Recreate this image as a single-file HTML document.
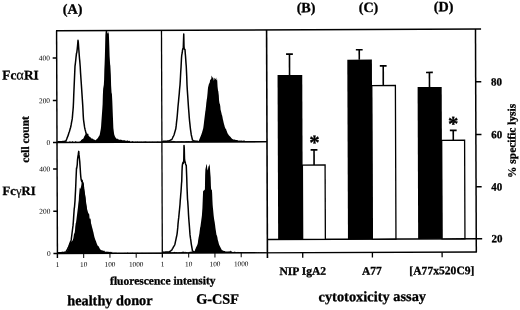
<!DOCTYPE html>
<html><head><meta charset="utf-8"><title>Figure</title>
<style>
html,body{margin:0;padding:0;background:#fff;}
body{width:520px;height:310px;overflow:hidden;}
svg{display:block;font-family:"Liberation Serif",serif;fill:#000;}
</style></head><body>
<svg width="520" height="310" viewBox="0 0 520 310">
<defs><filter id="soft" x="0" y="0" width="520" height="310" filterUnits="userSpaceOnUse"><feGaussianBlur stdDeviation="0.5"/></filter></defs>
<rect width="520" height="310" fill="#fff"/>
<g filter="url(#soft)">
<g>
<path d="M57.50,142.70 L57.50,141.82 L58.00,141.86 L58.50,141.77 L59.00,141.98 L59.50,142.12 L60.00,141.66 L60.50,141.44 L61.00,140.95 L61.50,142.11 L62.00,141.84 L62.50,141.23 L63.00,142.06 L63.50,142.12 L64.00,141.78 L64.50,141.59 L65.00,141.97 L65.50,141.53 L66.00,141.53 L66.50,141.60 L67.00,141.94 L67.50,141.99 L68.00,141.98 L68.50,141.90 L69.00,142.06 L69.50,141.52 L70.00,141.37 L70.50,141.68 L71.00,141.98 L71.50,142.05 L72.00,141.62 L72.50,141.10 L73.00,141.63 L73.50,141.98 L74.00,141.64 L74.50,141.96 L75.00,142.01 L75.50,140.99 L76.00,141.32 L76.50,141.95 L77.00,141.83 L77.50,141.89 L78.00,142.00 L78.50,141.90 L79.00,141.74 L79.50,141.88 L79.60,141.58 L79.85,141.41 L80.10,141.24 L80.35,141.16 L80.60,140.98 L80.85,140.80 L81.10,140.12 L81.35,139.96 L81.60,139.80 L81.85,139.49 L82.10,139.31 L82.35,139.12 L82.60,139.21 L82.85,139.05 L83.10,138.76 L83.35,138.46 L83.60,137.97 L83.85,137.49 L84.10,136.86 L84.35,136.35 L84.60,135.84 L84.85,135.52 L85.10,135.08 L85.35,134.72 L85.60,134.36 L85.85,133.99 L86.10,133.62 L86.35,133.25 L86.60,133.14 L86.85,133.43 L87.10,133.39 L87.35,133.69 L87.60,134.00 L87.85,133.32 L88.10,133.67 L88.35,134.08 L88.60,135.68 L88.85,136.05 L89.10,136.36 L89.35,136.48 L89.60,136.68 L89.85,136.88 L90.10,136.96 L90.35,137.17 L90.60,137.38 L90.85,137.76 L91.10,137.96 L91.35,138.16 L91.60,138.46 L91.85,138.67 L92.10,138.84 L92.35,138.46 L92.60,138.57 L92.85,138.68 L93.10,139.13 L93.35,139.23 L93.60,139.34 L93.85,139.59 L94.10,139.70 L94.35,139.80 L94.60,139.72 L94.85,139.83 L95.10,139.93 L95.35,140.20 L95.60,140.19 L95.85,140.00 L96.10,139.74 L96.35,139.55 L96.60,139.36 L96.85,139.08 L97.10,138.89 L97.35,138.59 L97.60,138.31 L97.85,137.91 L98.10,137.51 L98.35,137.13 L98.60,136.73 L98.85,136.34 L99.10,135.91 L99.35,135.52 L99.60,135.13 L99.85,134.11 L100.10,132.71 L100.35,131.31 L100.60,129.94 L100.85,128.55 L101.10,126.32 L101.35,122.33 L101.60,118.68 L101.85,115.20 L102.10,111.81 L102.35,108.34 L102.60,104.33 L102.85,95.14 L103.10,89.88 L103.35,84.63 L103.60,88.74 L103.85,84.28 L104.10,79.82 L104.35,69.61 L104.60,63.92 L104.85,57.04 L105.10,47.22 L105.35,35.19 L105.60,31.90 L105.85,30.60 L106.10,30.60 L106.35,30.60 L106.60,30.60 L106.85,30.60 L107.10,30.60 L107.35,32.66 L107.60,33.19 L107.85,33.73 L108.10,31.58 L108.35,32.55 L108.60,33.52 L108.85,33.47 L109.10,40.38 L109.35,47.30 L109.60,55.88 L109.85,60.11 L110.10,64.34 L110.35,65.69 L110.60,70.46 L110.85,75.23 L111.10,85.25 L111.35,89.59 L111.60,93.93 L111.85,92.45 L112.10,97.37 L112.35,102.30 L112.60,108.99 L112.85,115.62 L113.10,121.57 L113.35,127.89 L113.60,129.98 L113.85,132.06 L114.10,133.80 L114.35,134.96 L114.60,135.45 L114.85,136.24 L115.10,136.73 L115.35,137.21 L115.60,137.61 L115.85,138.08 L116.10,138.40 L116.35,138.60 L116.60,138.70 L116.85,138.80 L117.10,138.52 L117.35,138.63 L117.60,138.73 L117.85,139.17 L118.10,139.27 L118.35,139.36 L118.60,139.46 L118.85,139.56 L119.10,139.64 L119.35,139.75 L119.60,139.80 L119.85,139.85 L120.10,139.75 L120.35,139.80 L120.60,139.86 L120.85,139.59 L121.10,139.64 L121.35,139.69 L121.60,140.08 L121.85,140.12 L122.10,140.16 L122.35,140.15 L122.60,140.17 L122.85,140.20 L123.10,140.33 L123.35,140.36 L123.60,140.38 L123.85,140.05 L124.10,140.07 L124.35,140.09 L124.60,140.46 L124.85,140.48 L125.10,140.51 L125.35,140.60 L125.60,140.63 L125.85,140.65 L126.10,140.70 L126.35,140.73 L126.60,140.75 L126.85,140.67 L127.10,140.70 L127.35,140.72 L127.60,140.35 L127.85,140.37 L128.10,140.40 L128.35,140.92 L128.60,140.94 L128.85,140.97 L129.10,140.84 L129.35,140.86 L129.60,140.89 L129.85,140.71 L130.35,142.03 L130.85,141.93 L131.35,141.85 L131.85,141.76 L132.35,141.11 L132.85,141.56 L133.35,141.75 L133.85,141.98 L134.35,142.03 L134.85,141.99 L135.35,141.86 L135.85,141.70 L136.35,141.89 L136.85,141.81 L137.35,141.78 L137.85,141.57 L138.35,142.11 L138.85,141.99 L139.35,141.82 L139.85,141.97 L140.35,142.10 L140.85,141.85 L141.35,141.73 L141.85,141.91 L142.35,142.01 L142.85,142.12 L143.35,141.78 L143.85,142.09 L144.35,141.76 L144.85,141.64 L145.35,141.36 L145.85,141.92 L146.35,141.73 L146.85,142.05 L147.35,141.99 L147.85,142.00 L148.35,142.02 L148.85,142.15 L149.35,142.10 L149.85,141.73 L150.35,142.03 L150.85,142.07 L151.35,141.94 L151.85,142.10 L152.35,141.83 L152.85,142.07 L153.35,141.93 L153.85,141.99 L154.35,142.07 L154.85,141.94 L155.35,142.13 L155.85,142.03 L156.35,142.11 L156.85,142.07 L157.35,141.53 L157.85,142.03 L158.35,141.93 L158.85,141.87 L159.35,142.10 L159.85,142.05 L160.35,142.10 L160.85,142.04 L161.35,142.10 L161.50,142.70Z" fill="#000"/>
<path d="M58.00,141.79 L58.25,141.78 L58.50,141.77 L58.75,141.77 L59.00,141.76 L59.25,141.75 L59.50,141.74 L59.75,141.73 L60.00,141.72 L60.25,141.72 L60.50,141.71 L60.75,141.70 L61.00,141.67 L61.25,141.66 L61.50,141.65 L61.75,141.67 L62.00,141.66 L62.25,141.65 L62.50,141.61 L62.75,141.60 L63.00,141.59 L63.25,141.56 L63.50,141.52 L63.75,141.47 L64.00,141.42 L64.25,141.37 L64.50,141.33 L64.75,141.29 L65.00,141.25 L65.25,141.20 L65.50,141.13 L65.75,141.09 L66.00,140.58 L66.25,140.06 L66.50,139.46 L66.75,138.87 L67.00,138.19 L67.25,137.58 L67.50,136.97 L67.75,136.37 L68.00,135.76 L68.25,135.16 L68.50,134.23 L68.75,133.39 L69.00,132.56 L69.25,132.00 L69.50,131.18 L69.75,130.37 L70.00,129.41 L70.25,128.58 L70.50,127.76 L70.75,126.79 L71.00,125.51 L71.25,124.23 L71.50,122.73 L71.75,121.44 L72.00,120.14 L72.25,118.69 L72.50,115.90 L72.75,112.72 L73.00,110.21 L73.25,107.10 L73.50,101.95 L73.75,95.04 L74.00,89.22 L74.25,83.41 L74.50,77.78 L74.75,71.98 L75.00,66.19 L75.25,64.39 L75.50,62.24 L75.75,60.09 L76.00,57.53 L76.25,55.37 L76.50,53.20 L76.75,52.84 L77.00,50.86 L77.25,48.87 L77.50,46.24 L77.75,43.50 L78.00,40.25 L78.25,41.89 L78.50,45.10 L78.75,48.76 L79.00,51.99 L79.25,55.45 L79.50,58.55 L79.75,60.88 L80.00,64.01 L80.25,67.28 L80.50,72.09 L80.75,75.81 L81.00,79.53 L81.25,83.03 L81.50,86.77 L81.75,90.50 L82.00,94.40 L82.25,98.12 L82.50,101.84 L82.75,105.63 L83.00,110.53 L83.25,115.72 L83.50,119.52 L83.75,121.34 L84.00,123.16 L84.25,124.84 L84.50,126.67 L84.75,128.00 L85.00,129.18 L85.25,130.16 L85.50,131.15 L85.75,131.97 L86.00,132.97 L86.25,133.98 L86.50,134.85 L86.75,135.40 L87.00,135.95 L87.25,136.56 L87.50,137.10 L87.75,137.65 L88.00,138.23 L88.25,138.77 L88.50,139.31 L88.75,139.51 L89.00,139.69 L89.25,139.87 L89.50,140.04 L89.75,140.22 L90.00,140.40 L90.25,140.52 L90.50,140.71 L90.75,140.89 L91.00,141.10 L91.25,141.15 L91.50,141.20 L91.75,141.26 L92.00,141.31 L92.25,141.36 L92.50,141.40 L92.75,141.45 L93.00,141.50 L93.25,141.53 L93.50,141.58 L93.75,141.63 L94.00,141.70" fill="none" stroke="#000" stroke-width="1.5" stroke-linejoin="round" stroke-linecap="round"/>
<path d="M162.50,142.20 L162.50,141.32 L163.00,141.52 L163.50,141.22 L164.00,141.08 L164.50,141.36 L165.00,141.58 L165.50,140.75 L166.00,141.13 L166.50,141.54 L167.00,141.03 L167.50,141.63 L168.00,141.29 L168.50,141.64 L169.00,141.24 L169.50,141.46 L170.00,141.23 L170.50,141.49 L171.00,141.16 L171.50,141.41 L172.00,140.58 L172.50,141.38 L173.00,141.17 L173.50,140.74 L174.00,141.40 L174.50,140.96 L175.00,141.26 L175.50,141.57 L176.00,141.63 L176.50,141.57 L177.00,141.56 L177.50,141.48 L178.00,141.22 L178.50,141.41 L179.00,141.43 L179.50,141.57 L180.00,141.23 L180.50,141.52 L181.00,141.32 L181.50,141.36 L182.00,141.37 L182.50,141.59 L183.00,140.94 L183.50,141.56 L184.00,141.64 L184.50,141.50 L185.00,141.61 L185.50,141.54 L186.00,140.74 L186.50,141.46 L187.00,140.89 L187.50,141.45 L188.00,141.01 L188.50,141.25 L189.00,141.03 L189.50,141.45 L190.00,141.37 L190.50,141.56 L191.00,141.47 L191.50,140.87 L192.00,141.49 L192.50,141.10 L193.00,141.33 L193.50,141.42 L194.00,141.35 L194.50,141.19 L195.00,141.34 L195.50,140.77 L196.00,141.18 L196.50,141.47 L197.00,141.11 L197.50,141.12 L198.00,141.14 L198.50,141.57 L198.80,140.78 L199.05,140.20 L199.30,139.62 L199.55,138.88 L199.80,138.30 L200.05,137.71 L200.30,137.11 L200.55,136.54 L200.80,135.97 L201.05,135.29 L201.30,134.70 L201.55,133.84 L201.80,133.26 L202.05,132.43 L202.30,131.59 L202.55,130.66 L202.80,129.85 L203.05,129.03 L203.30,127.82 L203.55,125.92 L203.80,124.02 L204.05,121.65 L204.30,119.70 L204.55,117.72 L204.80,115.81 L205.05,113.70 L205.30,111.58 L205.55,110.17 L205.80,108.12 L206.05,106.11 L206.30,103.06 L206.55,101.14 L206.80,99.22 L207.05,97.95 L207.30,95.46 L207.55,92.96 L207.80,89.84 L208.05,87.60 L208.30,86.49 L208.55,85.51 L208.80,84.40 L209.05,83.29 L209.30,83.70 L209.55,82.75 L209.80,82.31 L210.05,80.27 L210.30,79.81 L210.55,79.35 L210.80,79.83 L211.05,79.15 L211.30,78.47 L211.55,75.44 L211.80,75.93 L212.05,76.42 L212.30,78.18 L212.55,77.45 L212.80,76.73 L213.05,77.38 L213.30,78.17 L213.55,78.95 L213.80,80.72 L214.05,80.05 L214.30,79.38 L214.55,77.65 L214.80,77.89 L215.05,78.36 L215.30,78.67 L215.55,79.01 L215.80,78.82 L216.05,80.03 L216.30,79.84 L216.55,80.55 L216.80,77.35 L217.05,78.96 L217.30,81.42 L217.55,86.44 L217.80,88.70 L218.05,90.80 L218.30,91.25 L218.55,93.41 L218.80,95.56 L219.05,100.15 L219.30,102.00 L219.55,103.86 L219.80,103.55 L220.05,105.04 L220.30,106.20 L220.55,109.41 L220.80,110.51 L221.05,111.60 L221.30,112.49 L221.55,113.60 L221.80,114.71 L222.05,115.23 L222.30,116.37 L222.55,117.50 L222.80,118.96 L223.05,119.96 L223.30,120.97 L223.55,122.23 L223.80,123.18 L224.05,124.13 L224.30,125.04 L224.55,126.02 L224.80,127.00 L225.05,127.52 L225.30,128.33 L225.55,128.84 L225.80,128.67 L226.05,129.19 L226.30,129.71 L226.55,130.83 L226.80,131.34 L227.05,131.85 L227.30,132.77 L227.55,133.26 L227.80,133.76 L228.05,133.94 L228.30,134.45 L228.55,134.81 L228.80,135.21 L229.05,135.46 L229.30,135.71 L229.55,135.97 L229.80,136.22 L230.05,136.48 L230.30,136.67 L230.55,136.92 L230.80,137.17 L231.05,137.71 L231.30,137.96 L231.55,138.22 L231.80,138.45 L232.05,138.70 L232.30,138.96 L232.55,138.96 L232.80,139.22 L233.05,139.28 L233.30,139.53 L233.55,139.58 L233.80,139.63 L234.05,139.35 L234.30,139.41 L234.55,139.46 L234.80,139.87 L235.05,139.92 L235.30,139.98 L235.55,139.80 L235.80,139.86 L236.05,139.91 L236.30,139.98 L236.55,140.03 L236.80,140.09 L237.05,139.90 L237.30,139.95 L237.55,140.00 L237.80,140.55 L238.05,140.59 L238.30,140.60 L238.55,140.62 L238.80,140.63 L239.05,140.65 L239.30,140.46 L239.55,140.47 L239.80,140.49 L240.05,140.66 L240.30,140.67 L240.55,140.69 L240.80,140.35 L241.05,140.37 L241.30,140.38 L241.55,140.62 L241.80,140.64 L242.05,140.65 L242.30,140.68 L242.55,140.70 L242.80,140.71 L243.05,140.79 L243.30,140.81 L243.55,140.82 L243.80,140.15 L244.05,140.16 L244.30,140.18 L244.55,140.86 L244.80,140.88 L245.30,141.52 L245.80,141.28 L246.30,141.36 L246.80,141.18 L247.30,141.30 L247.80,141.21 L248.30,141.54 L248.80,141.31 L249.30,141.64 L249.80,141.47 L250.30,141.62 L250.80,141.42 L251.30,141.16 L251.80,141.12 L252.30,141.61 L252.80,141.58 L253.30,141.49 L253.80,141.33 L254.30,141.18 L254.80,141.47 L255.30,141.42 L255.80,141.55 L256.30,141.60 L256.80,141.60 L257.30,141.54 L257.80,141.41 L258.30,141.26 L258.80,141.47 L259.30,141.62 L259.80,141.39 L260.30,141.56 L260.80,141.29 L261.30,141.64 L261.80,141.32 L262.30,141.62 L262.80,141.54 L263.30,141.18 L263.80,141.42 L264.30,141.32 L264.80,141.64 L265.30,141.23 L265.80,141.60 L266.30,141.60 L266.50,142.20Z" fill="#000"/>
<path d="M163.00,141.39 L163.25,141.37 L163.50,141.35 L163.75,141.34 L164.00,141.33 L164.25,141.31 L164.50,141.29 L164.75,141.27 L165.00,141.26 L165.25,141.25 L165.50,141.23 L165.75,141.22 L166.00,141.19 L166.25,141.17 L166.50,141.15 L166.75,141.13 L167.00,141.12 L167.25,141.10 L167.50,141.08 L167.75,141.06 L168.00,141.04 L168.25,141.03 L168.50,141.01 L168.75,140.94 L169.00,140.81 L169.25,140.70 L169.50,140.58 L169.75,140.47 L170.00,140.35 L170.25,140.24 L170.50,140.14 L170.75,140.02 L171.00,139.91 L171.25,139.74 L171.50,139.62 L171.75,139.50 L172.00,139.06 L172.25,138.55 L172.50,138.03 L172.75,137.47 L173.00,136.95 L173.25,136.43 L173.50,136.02 L173.75,135.51 L174.00,135.00 L174.25,134.15 L174.50,133.26 L174.75,132.38 L175.00,131.51 L175.25,130.63 L175.50,129.75 L175.75,129.02 L176.00,127.21 L176.25,125.16 L176.50,122.54 L176.75,120.43 L177.00,118.33 L177.25,115.80 L177.50,112.69 L177.75,109.58 L178.00,106.51 L178.25,104.04 L178.50,101.58 L178.75,98.61 L179.00,96.11 L179.25,93.62 L179.50,90.09 L179.75,87.55 L180.00,85.00 L180.25,81.08 L180.50,76.31 L180.75,71.55 L181.00,67.92 L181.25,62.98 L181.50,58.04 L181.75,55.04 L182.00,53.88 L182.25,52.71 L182.50,50.09 L182.75,49.11 L183.00,48.27 L183.25,48.31 L183.50,41.01 L183.75,34.04 L184.00,46.36 L184.25,49.00 L184.50,49.42 L184.75,49.24 L185.00,49.66 L185.25,53.31 L185.50,55.97 L185.75,59.67 L186.00,63.37 L186.25,66.31 L186.50,71.71 L186.75,77.11 L187.00,84.75 L187.25,89.11 L187.50,92.90 L187.75,96.34 L188.00,100.16 L188.25,103.98 L188.50,107.59 L188.75,110.71 L189.00,113.83 L189.25,117.44 L189.50,120.24 L189.75,122.67 L190.00,124.79 L190.25,127.26 L190.50,129.45 L190.75,131.22 L191.00,132.98 L191.25,134.73 L191.50,135.75 L191.75,136.81 L192.00,137.86 L192.25,138.96 L192.50,140.00 L192.75,140.17 L193.00,140.36 L193.25,140.53 L193.50,140.69 L193.75,140.83 L194.00,140.99 L194.25,141.02 L194.50,141.05 L194.75,141.08 L195.00,141.10 L195.25,141.14 L195.50,141.16 L195.75,141.19 L196.00,141.20 L196.25,141.23 L196.50,141.25 L196.75,141.28 L197.00,141.30 L197.25,141.33 L197.50,141.35 L197.75,141.38 L198.00,141.40" fill="none" stroke="#000" stroke-width="1.5" stroke-linejoin="round" stroke-linecap="round"/>
<path d="M57.50,253.70 L57.50,252.31 L58.00,252.46 L58.50,252.33 L59.00,252.96 L59.50,252.63 L60.00,252.52 L60.50,252.76 L61.00,252.36 L61.25,252.35 L61.50,252.35 L61.75,252.40 L62.00,252.39 L62.25,252.39 L62.50,251.67 L62.75,251.67 L63.00,251.66 L63.25,252.39 L63.50,252.38 L63.75,252.38 L64.00,252.41 L64.25,252.40 L64.50,252.40 L64.75,251.90 L65.00,251.90 L65.25,251.89 L65.50,252.17 L65.75,252.16 L66.00,252.16 L66.25,252.16 L66.50,251.74 L66.75,251.31 L67.00,250.95 L67.25,250.52 L67.50,250.08 L67.75,249.67 L68.00,249.25 L68.25,248.26 L68.50,247.19 L68.75,246.23 L69.00,245.28 L69.25,244.30 L69.50,243.31 L69.75,243.08 L70.00,242.85 L70.25,242.62 L70.50,242.38 L70.75,241.70 L71.00,241.46 L71.25,241.22 L71.50,241.60 L71.75,241.38 L72.00,241.16 L72.25,240.80 L72.50,240.57 L72.75,240.34 L73.00,239.11 L73.25,238.65 L73.50,237.35 L73.75,235.44 L74.00,234.11 L74.25,232.77 L74.50,233.90 L74.75,232.12 L75.00,230.33 L75.25,226.87 L75.50,224.94 L75.75,222.99 L76.00,222.70 L76.25,220.84 L76.50,218.98 L76.75,216.94 L77.00,214.98 L77.25,213.01 L77.50,211.06 L77.75,209.04 L78.00,207.02 L78.25,204.36 L78.50,202.30 L78.75,200.25 L79.00,195.26 L79.25,193.10 L79.50,189.98 L79.75,187.96 L80.00,187.72 L80.25,187.49 L80.50,188.92 L80.75,188.69 L81.00,186.85 L81.25,185.51 L81.50,183.96 L81.75,182.57 L82.00,180.35 L82.25,180.13 L82.50,180.70 L82.75,181.51 L83.00,182.08 L83.25,182.83 L83.50,181.97 L83.75,183.53 L84.00,185.10 L84.25,189.93 L84.50,191.67 L84.75,193.46 L85.00,194.14 L85.25,195.98 L85.50,197.81 L85.75,199.79 L86.00,201.58 L86.25,203.36 L86.50,205.07 L86.75,206.86 L87.00,208.64 L87.25,209.71 L87.50,210.55 L87.75,211.39 L88.00,212.31 L88.25,213.15 L88.50,213.98 L88.75,212.96 L89.00,213.83 L89.25,214.70 L89.50,217.73 L89.75,218.60 L90.00,219.48 L90.25,218.00 L90.50,218.92 L90.75,219.85 L91.00,223.13 L91.25,224.00 L91.50,224.86 L91.75,225.96 L92.00,227.02 L92.25,228.07 L92.50,228.75 L92.75,229.83 L93.00,230.90 L93.25,231.71 L93.50,232.85 L93.75,234.00 L94.00,235.22 L94.25,236.36 L94.50,237.51 L94.75,237.83 L95.00,239.01 L95.25,239.56 L95.50,240.23 L95.75,240.78 L96.00,241.33 L96.25,242.32 L96.50,242.86 L96.75,243.40 L97.00,244.25 L97.25,244.77 L97.50,245.29 L97.75,245.68 L98.00,246.05 L98.25,246.43 L98.50,246.07 L98.75,246.47 L99.00,246.87 L99.25,247.85 L99.50,248.23 L99.75,248.61 L100.00,248.89 L100.25,249.25 L100.50,249.61 L100.75,249.93 L101.00,250.02 L101.25,250.12 L101.50,250.23 L101.75,250.33 L102.00,250.42 L102.25,250.18 L102.50,250.28 L102.75,250.39 L103.00,250.90 L103.25,251.00 L103.50,251.10 L103.75,250.37 L104.00,250.48 L104.25,250.58 L104.50,251.27 L104.75,251.37 L105.00,251.47 L105.25,251.68 L105.50,251.70 L105.75,251.72 L106.00,251.68 L106.25,251.70 L106.50,251.72 L106.75,251.51 L107.00,251.53 L107.25,251.55 L107.50,251.85 L107.75,251.87 L108.00,251.90 L108.25,251.77 L108.50,251.79 L108.75,251.81 L109.00,251.85 L109.25,251.87 L109.50,251.89 L109.75,252.10 L110.00,252.12 L110.25,252.15 L110.50,251.77 L110.75,251.79 L111.00,251.81 L111.25,252.22 L111.50,252.24 L111.75,252.26 L112.00,251.54 L112.50,253.06 L113.00,252.89 L113.50,253.05 L114.00,252.28 L114.50,253.01 L115.00,252.85 L115.50,252.85 L116.00,252.76 L116.50,252.75 L117.00,252.89 L117.50,253.07 L118.00,252.88 L118.50,252.90 L119.00,252.76 L119.50,252.98 L120.00,253.12 L120.50,252.93 L121.00,252.96 L121.50,252.91 L122.00,253.02 L122.50,253.01 L123.00,253.01 L123.50,253.01 L124.00,252.93 L124.50,253.10 L125.00,252.68 L125.50,252.98 L126.00,253.02 L126.50,252.89 L127.00,252.94 L127.50,252.54 L128.00,252.86 L128.50,252.98 L129.00,253.14 L129.50,253.04 L130.00,252.97 L130.50,253.09 L131.00,252.66 L131.50,252.91 L132.00,253.06 L132.50,252.71 L133.00,252.86 L133.50,253.15 L134.00,252.88 L134.50,253.04 L135.00,253.08 L135.50,252.90 L136.00,252.84 L136.50,253.02 L137.00,253.09 L137.50,252.79 L138.00,252.88 L138.50,253.10 L139.00,253.09 L139.50,253.04 L140.00,253.09 L140.50,253.03 L141.00,253.02 L141.50,252.92 L142.00,252.87 L142.50,253.06 L143.00,253.05 L143.50,252.96 L144.00,252.93 L144.50,252.97 L145.00,253.00 L145.50,253.08 L146.00,252.97 L146.50,253.05 L147.00,253.14 L147.50,253.14 L148.00,253.06 L148.50,253.01 L149.00,253.01 L149.50,253.10 L150.00,253.05 L150.50,253.11 L151.00,253.12 L151.50,253.10 L152.00,252.95 L152.50,253.15 L153.00,253.04 L153.50,253.15 L154.00,253.10 L154.50,253.10 L155.00,253.13 L155.50,253.12 L156.00,253.11 L156.50,253.12 L157.00,253.11 L157.50,253.11 L158.00,253.13 L158.50,253.07 L159.00,253.12 L159.50,253.10 L160.00,253.05 L160.50,253.12 L161.00,253.12 L161.50,253.14 L161.50,253.70Z" fill="#000"/>
<path d="M58.00,252.80 L58.25,252.79 L58.50,252.78 L58.75,252.76 L59.00,252.75 L59.25,252.73 L59.50,252.72 L59.75,252.71 L60.00,252.70 L60.25,252.69 L60.50,252.68 L60.75,252.67 L61.00,252.67 L61.25,252.66 L61.50,252.65 L61.75,252.60 L62.00,252.59 L62.25,252.58 L62.50,252.57 L62.75,252.55 L63.00,252.54 L63.25,252.55 L63.50,252.54 L63.75,252.53 L64.00,252.48 L64.25,252.40 L64.50,252.31 L64.75,252.24 L65.00,252.16 L65.25,252.07 L65.50,251.93 L65.75,251.84 L66.00,251.75 L66.25,251.35 L66.50,250.91 L66.75,250.47 L67.00,250.06 L67.25,249.63 L67.50,249.19 L67.75,248.67 L68.00,248.23 L68.25,247.59 L68.50,247.04 L68.75,246.42 L69.00,245.79 L69.25,245.16 L69.50,244.54 L69.75,243.88 L70.00,243.22 L70.25,242.54 L70.50,241.87 L70.75,241.23 L71.00,240.56 L71.25,239.63 L71.50,237.51 L71.75,235.52 L72.00,233.53 L72.25,231.50 L72.50,229.51 L72.75,227.51 L73.00,225.67 L73.25,222.83 L73.50,219.40 L73.75,215.33 L74.00,211.84 L74.25,208.42 L74.50,207.02 L74.75,203.94 L75.00,200.87 L75.25,195.74 L75.50,191.18 L75.75,186.03 L76.00,179.34 L76.25,173.70 L76.50,168.06 L76.75,168.26 L77.00,166.44 L77.25,164.61 L77.50,159.76 L77.75,157.85 L78.00,155.85 L78.25,154.86 L78.50,152.70 L78.75,151.37 L79.00,154.64 L79.25,156.92 L79.50,159.26 L79.75,161.64 L80.00,165.37 L80.25,168.99 L80.50,173.24 L80.75,176.36 L81.00,178.53 L81.25,180.08 L81.50,180.81 L81.75,181.55 L82.00,180.26 L82.25,181.37 L82.50,182.71 L82.75,183.99 L83.00,185.34 L83.25,186.69 L83.50,188.68 L83.75,190.34 L84.00,192.22 L84.25,194.19 L84.50,196.07 L84.75,197.94 L85.00,201.39 L85.25,203.50 L85.50,205.62 L85.75,207.00 L86.00,209.15 L86.25,211.29 L86.50,212.62 L86.75,213.98 L87.00,215.33 L87.25,216.38 L87.50,217.75 L87.75,219.11 L88.00,220.03 L88.25,221.42 L88.50,222.80 L88.75,224.38 L89.00,225.28 L89.25,226.17 L89.50,227.15 L89.75,228.04 L90.00,228.93 L90.25,229.33 L90.50,230.24 L90.75,231.15 L91.00,232.33 L91.25,233.21 L91.50,234.08 L91.75,235.23 L92.00,236.09 L92.25,236.95 L92.50,237.32 L92.75,238.21 L93.00,239.10" fill="none" stroke="#000" stroke-width="1.5" stroke-linejoin="round" stroke-linecap="round"/>
<path d="M162.50,253.00 L162.50,252.39 L163.00,251.84 L163.50,251.75 L164.00,252.14 L164.50,252.08 L165.00,251.71 L165.50,252.30 L166.00,251.90 L166.50,252.41 L167.00,251.61 L167.50,252.21 L168.00,252.09 L168.50,252.31 L169.00,252.28 L169.50,252.35 L170.00,251.60 L170.50,251.34 L171.00,252.38 L171.50,252.40 L172.00,251.85 L172.50,252.40 L173.00,252.35 L173.50,252.26 L174.00,251.93 L174.50,251.76 L175.00,252.29 L175.50,252.18 L176.00,252.03 L176.50,252.29 L177.00,252.02 L177.50,252.38 L178.00,252.45 L178.50,252.30 L179.00,252.28 L179.50,252.13 L180.00,251.91 L180.50,252.45 L181.00,252.04 L181.50,252.23 L182.00,251.85 L182.50,251.46 L183.00,252.25 L183.50,251.30 L184.00,251.93 L184.50,252.41 L185.00,251.33 L185.50,252.36 L186.00,252.37 L186.50,252.07 L187.00,252.31 L187.50,252.42 L188.00,252.24 L188.50,252.42 L189.00,251.98 L189.50,251.86 L190.00,252.15 L190.50,251.85 L191.00,251.31 L191.50,251.62 L192.00,252.27 L192.50,251.72 L193.00,252.35 L193.50,252.19 L194.00,251.89 L194.40,251.57 L194.65,251.01 L194.90,250.44 L195.15,249.54 L195.40,248.97 L195.65,248.40 L195.90,247.77 L196.15,247.22 L196.40,246.68 L196.65,246.25 L196.90,245.70 L197.15,245.15 L197.40,244.43 L197.65,243.73 L197.90,242.38 L198.15,240.21 L198.40,238.78 L198.65,237.34 L198.90,236.26 L199.15,234.83 L199.40,233.41 L199.65,231.30 L199.90,229.45 L200.15,227.61 L200.40,226.73 L200.65,224.93 L200.90,223.12 L201.15,221.18 L201.40,219.37 L201.65,217.56 L201.90,215.42 L202.15,211.87 L202.40,208.33 L202.65,201.82 L202.90,195.65 L203.15,189.48 L203.40,191.13 L203.65,190.92 L203.90,190.70 L204.15,190.19 L204.40,189.97 L204.65,189.75 L204.90,189.35 L205.15,174.83 L205.40,169.29 L205.65,168.37 L205.90,167.05 L206.15,166.06 L206.40,164.16 L206.65,164.44 L206.90,164.73 L207.15,167.73 L207.40,169.13 L207.65,170.53 L207.90,169.54 L208.15,168.13 L208.40,166.73 L208.65,166.14 L208.90,165.86 L209.15,165.58 L209.40,163.64 L209.65,165.17 L209.90,166.70 L210.15,171.21 L210.40,174.39 L210.65,177.58 L210.90,185.86 L211.15,189.50 L211.40,189.85 L211.65,189.58 L211.90,189.93 L212.15,193.18 L212.40,199.66 L212.65,204.68 L212.90,207.79 L213.15,210.04 L213.40,212.73 L213.65,215.42 L213.90,217.56 L214.15,219.21 L214.40,220.87 L214.65,222.05 L214.90,223.72 L215.15,225.39 L215.40,227.73 L215.65,229.38 L215.90,231.02 L216.15,232.76 L216.40,234.38 L216.65,235.33 L216.90,235.54 L217.15,236.52 L217.40,237.50 L217.65,239.19 L217.90,240.14 L218.15,241.10 L218.40,242.08 L218.65,243.04 L218.90,244.00 L219.15,244.63 L219.40,245.14 L219.65,245.65 L219.90,246.22 L220.15,246.72 L220.40,247.23 L220.65,247.63 L220.90,248.14 L221.15,248.64 L221.40,249.11 L221.65,249.63 L221.90,250.14 L222.15,250.23 L222.40,250.30 L222.65,250.36 L222.90,250.61 L223.15,250.68 L223.40,250.75 L223.65,250.84 L223.90,250.91 L224.15,250.98 L224.40,250.90 L224.65,250.97 L224.90,251.04 L225.15,251.34 L225.40,251.41 L225.65,251.48 L225.90,251.53 L226.15,251.56 L226.40,251.57 L226.65,251.60 L226.90,251.61 L227.15,251.61 L227.40,251.60 L227.65,251.61 L227.90,251.62 L228.15,251.50 L228.40,251.51 L228.65,251.52 L228.90,251.16 L229.15,251.17 L229.40,251.18 L229.65,251.41 L229.90,251.42 L230.15,251.42 L230.40,250.85 L230.65,250.85 L230.90,250.86 L231.15,251.42 L231.40,251.42 L231.65,251.43 L231.90,251.26 L232.40,252.21 L232.90,252.14 L233.40,252.21 L233.90,251.87 L234.40,251.47 L234.90,251.99 L235.40,251.79 L235.90,252.36 L236.40,252.37 L236.90,252.27 L237.40,252.38 L237.90,251.83 L238.40,252.03 L238.90,252.31 L239.40,252.32 L239.90,251.94 L240.40,251.99 L240.90,252.15 L241.40,251.98 L241.90,252.11 L242.40,252.31 L242.90,252.16 L243.40,252.36 L243.90,252.41 L244.40,252.35 L244.90,252.38 L245.40,252.08 L245.90,252.21 L246.40,252.32 L246.90,252.41 L247.40,252.23 L247.90,252.33 L248.40,252.43 L248.90,251.91 L249.40,252.43 L249.90,252.44 L250.40,252.40 L250.90,252.18 L251.40,252.33 L251.90,252.30 L252.40,252.44 L252.90,251.98 L253.40,252.39 L253.90,252.36 L254.40,252.29 L254.90,252.28 L255.40,252.32 L255.90,251.99 L256.40,252.35 L256.90,252.34 L257.40,252.44 L257.90,252.33 L258.40,252.36 L258.90,252.31 L259.40,252.39 L259.90,252.31 L260.40,252.35 L260.90,252.40 L261.40,252.28 L261.90,252.32 L262.40,252.45 L262.90,252.18 L263.40,252.32 L263.90,252.42 L264.40,252.21 L264.90,252.41 L265.40,252.43 L265.90,252.41 L266.40,252.45 L266.50,253.00Z" fill="#000"/>
<path d="M163.00,252.19 L163.25,252.18 L163.50,252.17 L163.75,252.18 L164.00,252.17 L164.25,252.16 L164.50,252.15 L164.75,252.14 L165.00,252.13 L165.25,252.12 L165.50,252.11 L165.75,252.11 L166.00,252.10 L166.25,252.10 L166.50,252.09 L166.75,252.07 L167.00,252.07 L167.25,252.06 L167.50,252.05 L167.75,252.04 L168.00,252.03 L168.25,252.04 L168.50,252.03 L168.75,252.02 L169.00,251.99 L169.25,251.81 L169.50,251.63 L169.75,251.46 L170.00,251.28 L170.25,251.10 L170.50,250.94 L170.75,250.76 L171.00,250.59 L171.25,250.40 L171.50,250.22 L171.75,250.04 L172.00,249.62 L172.25,249.17 L172.50,248.71 L172.75,248.30 L173.00,247.85 L173.25,247.40 L173.50,246.95 L173.75,246.50 L174.00,246.04 L174.25,245.70 L174.50,245.25 L174.75,244.81 L175.00,243.87 L175.25,242.67 L175.50,241.47 L175.75,240.33 L176.00,239.14 L176.25,237.95 L176.50,236.73 L176.75,235.53 L177.00,234.34 L177.25,232.37 L177.50,230.00 L177.75,227.63 L178.00,224.20 L178.25,221.74 L178.50,219.28 L178.75,217.41 L179.00,214.77 L179.25,212.14 L179.50,209.78 L179.75,207.16 L180.00,204.54 L180.25,200.44 L180.50,197.75 L180.75,194.24 L181.00,191.70 L181.25,187.74 L181.50,183.79 L181.75,181.06 L182.00,171.24 L182.25,166.18 L182.50,164.17 L182.75,163.25 L183.00,162.34 L183.25,163.50 L183.50,162.80 L183.75,162.15 L184.00,145.41 L184.25,148.01 L184.50,158.56 L184.75,160.86 L185.00,161.60 L185.25,162.44 L185.50,163.63 L185.75,164.47 L186.00,165.31 L186.25,165.35 L186.50,171.70 L186.75,178.05 L187.00,186.67 L187.25,192.87 L187.50,199.08 L187.75,201.52 L188.00,205.39 L188.25,209.26 L188.50,214.36 L188.75,218.11 L189.00,221.52 L189.25,224.38 L189.50,227.77 L189.75,231.16 L190.00,234.66 L190.25,236.56 L190.50,238.45 L190.75,239.95 L191.00,241.91 L191.25,243.86 L191.50,245.35 L191.75,246.75 L192.00,248.16 L192.25,249.64 L192.50,251.01 L192.75,251.16 L193.00,251.29 L193.25,251.44 L193.50,251.59 L193.75,251.75 L194.00,251.90 L194.25,251.92 L194.50,251.93 L194.75,251.95 L195.00,251.97 L195.25,252.00 L195.50,252.02 L195.75,252.04 L196.00,252.06 L196.25,252.08 L196.50,252.10 L196.75,252.12 L197.00,252.14 L197.25,252.15 L197.50,252.16 L197.75,252.18 L198.00,252.20" fill="none" stroke="#000" stroke-width="1.5" stroke-linejoin="round" stroke-linecap="round"/>
</g>
<g transform="rotate(-0.215 266 142)">
<line x1="56.4" y1="29.9" x2="481.5" y2="29.9" stroke="#000" stroke-width="1.45"/>
<line x1="57.0" y1="29.9" x2="57.0" y2="257.2" stroke="#000" stroke-width="1.45"/>
<line x1="53.0" y1="141.65" x2="267.0" y2="141.65" stroke="#000" stroke-width="1.45"/>
<line x1="53.0" y1="252.8" x2="476.5" y2="252.8" stroke="#000" stroke-width="1.45"/>
<line x1="161.9" y1="29.9" x2="161.9" y2="257.2" stroke="#000" stroke-width="1.3"/>
<line x1="267.0" y1="29.9" x2="267.0" y2="258" stroke="#000" stroke-width="1.6"/>
<line x1="475.9" y1="29.9" x2="475.9" y2="252.8" stroke="#000" stroke-width="1.5"/>
<line x1="53.0" y1="57.1" x2="57.0" y2="57.1" stroke="#000" stroke-width="1.5"/>
<line x1="53.0" y1="99.8" x2="57.0" y2="99.8" stroke="#000" stroke-width="1.5"/>
<line x1="53.0" y1="168.2" x2="57.0" y2="168.2" stroke="#000" stroke-width="1.5"/>
<line x1="53.0" y1="210.4" x2="57.0" y2="210.4" stroke="#000" stroke-width="1.5"/>
<line x1="83.25" y1="252.8" x2="83.25" y2="257.2" stroke="#000" stroke-width="1.0"/>
<line x1="109.5" y1="252.8" x2="109.5" y2="257.2" stroke="#000" stroke-width="1.0"/>
<line x1="135.75" y1="252.8" x2="135.75" y2="257.2" stroke="#000" stroke-width="1.0"/>
<line x1="188.25" y1="252.8" x2="188.25" y2="257.2" stroke="#000" stroke-width="1.0"/>
<line x1="214.5" y1="252.8" x2="214.5" y2="257.2" stroke="#000" stroke-width="1.0"/>
<line x1="240.75" y1="252.8" x2="240.75" y2="257.2" stroke="#000" stroke-width="1.0"/>
<line x1="475.9" y1="82.6" x2="481.5" y2="82.6" stroke="#000" stroke-width="1.45"/>
<line x1="475.9" y1="135.3" x2="481.5" y2="135.3" stroke="#000" stroke-width="1.45"/>
<line x1="475.9" y1="187.6" x2="481.5" y2="187.6" stroke="#000" stroke-width="1.45"/>
<line x1="267.0" y1="239.5" x2="481.8" y2="239.5" stroke="#000" stroke-width="1.4"/>
<line x1="302.3" y1="252.8" x2="302.3" y2="258" stroke="#000" stroke-width="1.3"/>
<line x1="372" y1="252.8" x2="372" y2="258" stroke="#000" stroke-width="1.3"/>
<line x1="441.7" y1="252.8" x2="441.7" y2="258" stroke="#000" stroke-width="1.3"/>
<line x1="289.8" y1="75.1" x2="289.8" y2="54.2" stroke="#000" stroke-width="1.6"/>
<line x1="286.40000000000003" y1="54.2" x2="293.2" y2="54.2" stroke="#000" stroke-width="1.7"/>
<line x1="314" y1="165.2" x2="314" y2="150.0" stroke="#000" stroke-width="1.6"/>
<line x1="310.6" y1="150.0" x2="317.4" y2="150.0" stroke="#000" stroke-width="1.7"/>
<line x1="359.6" y1="60" x2="359.6" y2="50.1" stroke="#000" stroke-width="1.6"/>
<line x1="356.20000000000005" y1="50.1" x2="363.0" y2="50.1" stroke="#000" stroke-width="1.7"/>
<line x1="383.5" y1="86" x2="383.5" y2="66.3" stroke="#000" stroke-width="1.6"/>
<line x1="380.1" y1="66.3" x2="386.9" y2="66.3" stroke="#000" stroke-width="1.7"/>
<line x1="429.7" y1="87.6" x2="429.7" y2="73.1" stroke="#000" stroke-width="1.6"/>
<line x1="426.3" y1="73.1" x2="433.09999999999997" y2="73.1" stroke="#000" stroke-width="1.7"/>
<line x1="453.3" y1="141" x2="453.3" y2="131" stroke="#000" stroke-width="1.6"/>
<line x1="449.90000000000003" y1="131" x2="456.7" y2="131" stroke="#000" stroke-width="1.7"/>
<rect x="302.3" y="165.2" width="22.69999999999999" height="74.30000000000001" fill="#fff" stroke="#000" stroke-width="1.3"/>
<rect x="277.8" y="75.1" width="24.69999999999999" height="164.4" fill="#000"/>
<rect x="372.0" y="86" width="23.600000000000023" height="153.5" fill="#fff" stroke="#000" stroke-width="1.3"/>
<rect x="347.6" y="60" width="24.599999999999966" height="179.5" fill="#000"/>
<rect x="441.7" y="141" width="22.900000000000034" height="98.5" fill="#fff" stroke="#000" stroke-width="1.3"/>
<rect x="417.8" y="87.6" width="24.099999999999966" height="151.9" fill="#000"/>
<text x="73.0" y="13.0" font-size="14.2" font-weight="bold" text-anchor="middle" stroke="#000" stroke-width="0.3" >(A)</text>
<text x="306.6" y="12.3" font-size="14.2" font-weight="bold" text-anchor="middle" stroke="#000" stroke-width="0.3" >(B)</text>
<text x="369.0" y="12.3" font-size="14.2" font-weight="bold" text-anchor="middle" stroke="#000" stroke-width="0.3" >(C)</text>
<text x="444.1" y="12.0" font-size="14.2" font-weight="bold" text-anchor="middle" stroke="#000" stroke-width="0.3" >(D)</text>
<text x="2.5" y="78.6" font-size="13.3" font-weight="bold" text-anchor="start" stroke="#000" stroke-width="0.3" >Fc<tspan font-weight="normal" stroke-width="0.15" font-size="14.6">α</tspan>RI</text>
<text x="2.3" y="194.1" font-size="12.7" font-weight="bold" text-anchor="start" stroke="#000" stroke-width="0.3" >Fc<tspan font-weight="normal" stroke-width="0.15" font-size="12.7">γ</tspan>RI</text>
<text x="0" y="0" font-size="11.4" font-weight="bold" text-anchor="middle" stroke="#000" stroke-width="0.3" transform="translate(28.9 138.6) rotate(-90)">cell count</text>
<text x="0" y="0" font-size="11.4" font-weight="bold" text-anchor="middle" stroke="#000" stroke-width="0.3" transform="translate(515.6 141.8) rotate(-90)">% specific lysis</text>
<text x="162.3" y="284.1" font-size="11.5" font-weight="bold" text-anchor="middle" stroke="#000" stroke-width="0.3" >fluorescence intensity</text>
<text x="109.3" y="304.6" font-size="14.3" font-weight="bold" text-anchor="middle" stroke="#000" stroke-width="0.3" >healthy donor</text>
<text x="217.0" y="303.6" font-size="14.3" font-weight="bold" text-anchor="middle" stroke="#000" stroke-width="0.3" >G-CSF</text>
<text x="371.7" y="301.6" font-size="14.4" font-weight="bold" text-anchor="middle" stroke="#000" stroke-width="0.3" >cytotoxicity assay</text>
<text x="302.3" y="275.0" font-size="11.6" font-weight="bold" text-anchor="middle" stroke="#000" stroke-width="0.3" >NIP IgA2</text>
<text x="371.4" y="275.0" font-size="11.5" font-weight="bold" text-anchor="middle" stroke="#000" stroke-width="0.3" >A77</text>
<text x="441.4" y="275.0" font-size="11.6" font-weight="bold" text-anchor="middle" stroke="#000" stroke-width="0.3" >[A77x520C9]</text>
<text x="496.7" y="86.3" font-size="11" font-weight="bold" text-anchor="middle" stroke="#000" stroke-width="0.3" >80</text>
<text x="496.7" y="139" font-size="11" font-weight="bold" text-anchor="middle" stroke="#000" stroke-width="0.3" >60</text>
<text x="496.7" y="191.3" font-size="11" font-weight="bold" text-anchor="middle" stroke="#000" stroke-width="0.3" >40</text>
<text x="496.7" y="243.2" font-size="11" font-weight="bold" text-anchor="middle" stroke="#000" stroke-width="0.3" >20</text>
<text x="50.2" y="59.6" font-size="7.4" font-weight="normal" text-anchor="end"  >400</text>
<text x="50.2" y="102.3" font-size="7.4" font-weight="normal" text-anchor="end"  >200</text>
<text x="50.2" y="144.15" font-size="7.4" font-weight="normal" text-anchor="end"  >0</text>
<text x="50.2" y="170.7" font-size="7.4" font-weight="normal" text-anchor="end"  >400</text>
<text x="50.2" y="212.9" font-size="7.4" font-weight="normal" text-anchor="end"  >200</text>
<text x="50.2" y="255.3" font-size="7.4" font-weight="normal" text-anchor="end"  >0</text>
<text x="57.0" y="266.2" font-size="7.3" font-weight="normal" text-anchor="middle"  >1</text>
<text x="83.25" y="266.2" font-size="7.3" font-weight="normal" text-anchor="middle"  >10</text>
<text x="109.5" y="266.2" font-size="7.3" font-weight="normal" text-anchor="middle"  >100</text>
<text x="135.75" y="266.2" font-size="7.3" font-weight="normal" text-anchor="middle"  >1000</text>
<text x="162.0" y="266.2" font-size="7.3" font-weight="normal" text-anchor="middle"  >1</text>
<text x="188.25" y="266.2" font-size="7.3" font-weight="normal" text-anchor="middle"  >10</text>
<text x="214.5" y="266.2" font-size="7.3" font-weight="normal" text-anchor="middle"  >100</text>
<text x="240.75" y="266.2" font-size="7.3" font-weight="normal" text-anchor="middle"  >1000</text>
<text x="314.5" y="149.6" font-size="21" font-weight="bold" text-anchor="middle" stroke="#000" stroke-width="0.3" >*</text>
<text x="453.4" y="131.4" font-size="21" font-weight="bold" text-anchor="middle" stroke="#000" stroke-width="0.3" >*</text>
</g>
</g>
</svg>
</body></html>
